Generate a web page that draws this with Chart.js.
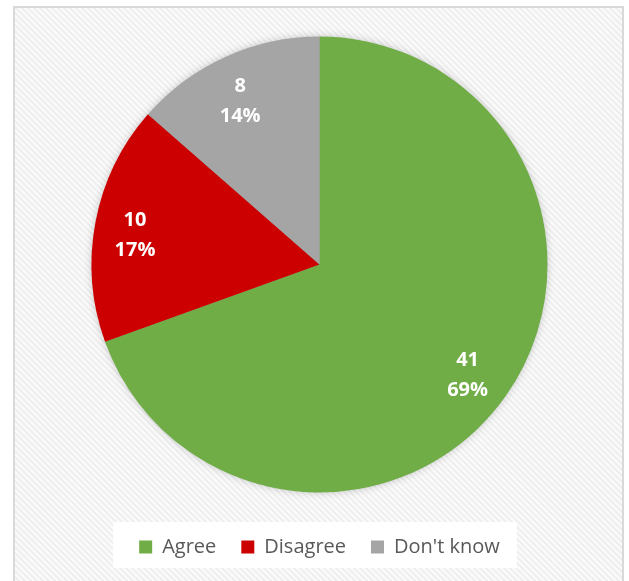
<!DOCTYPE html>
<html>
<head>
<meta charset="utf-8">
<script src="https://cdn.jsdelivr.net/npm/chart.js@4/dist/chart.umd.min.js"></script>
<style>
  html, body { margin: 0; padding: 0; background: #fff; }
  #wrap { width: 629px; height: 581px; position: relative; }
</style>
</head>
<body>
<div id="wrap"><canvas id="pieChart"></canvas></div>
<script>
const categories = ['Agree', 'Disagree', "Don't know"];
const counts = [41, 10, 8];
const percents = ['69%', '17%', '14%'];
const sliceColors = ['#70ad47', '#cc0000', '#a5a5a5'];

// hatched frame behind everything + white box behind legend
const backdrop = {
    id: 'backdrop',
    beforeDraw(chart) {
        const ctx = chart.ctx;
        const fx = 14, fy = 7, fw = 609, fh = 600;
        ctx.save();
        ctx.fillStyle = '#ffffff';
        ctx.fillRect(0, 0, chart.width, chart.height);
        ctx.beginPath();
        ctx.rect(fx, fy, fw, fh);
        ctx.clip();
        ctx.fillStyle = '#fbfbfb';
        ctx.fillRect(fx, fy, fw, fh);
        ctx.strokeStyle = '#eeeeee';
        ctx.lineWidth = 2;
        for (let k = -700; k < 700; k += 6) {
            ctx.beginPath();
            ctx.moveTo(k, 0);
            ctx.lineTo(k + 620, 620);
            ctx.stroke();
        }
        ctx.restore();

        ctx.save();
        ctx.strokeStyle = '#d9d9d9';
        ctx.lineWidth = 2;
        ctx.strokeRect(fx, fy, fw, fh);
        ctx.restore();

        const boxes = chart.legend && chart.legend.legendHitBoxes;
        if (boxes && boxes.length) {
            const left = Math.min(...boxes.map(b => b.left)) - 26;
            const right = Math.max(...boxes.map(b => b.left + b.width)) + 17;
            const top = boxes[0].top + boxes[0].height / 2 - 25;
            ctx.save();
            ctx.fillStyle = '#ffffff';
            ctx.fillRect(left, top, right - left, 46);
            ctx.restore();
        }
    },
    beforeDatasetsDraw(chart) {
        const arc = chart.getDatasetMeta(0).data[0];
        if (!arc) return;
        const ctx = chart.ctx;
        ctx.save();
        ctx.shadowColor = 'rgba(0,0,0,0.25)';
        ctx.shadowBlur = 8;
        ctx.fillStyle = '#999';
        ctx.beginPath();
        ctx.arc(arc.x, arc.y, arc.outerRadius - 1, 0, Math.PI * 2);
        ctx.fill();
        ctx.restore();
    }
};

// value + percent labels inside slices
const sliceLabels = {
    id: 'sliceLabels',
    afterDatasetsDraw(chart) {
        const ctx = chart.ctx;
        const meta = chart.getDatasetMeta(0);
        ctx.save();
        ctx.fillStyle = '#ffffff';
        ctx.font = 'bold 20px "Open Sans"';
        ctx.textAlign = 'center';
        ctx.textBaseline = 'middle';
        meta.data.forEach((arc, i) => {
            const p = arc.getProps(['x', 'y', 'startAngle', 'endAngle', 'outerRadius'], true);
            const mid = (p.startAngle + p.endAngle) / 2;
            const r = p.outerRadius * 0.81;
            const x = p.x + Math.cos(mid) * r - 3;
            const y = p.y + Math.sin(mid) * r + 5;
            ctx.fillText(String(counts[i]), x, y - 15);
            ctx.fillText(percents[i], x, y + 15);
        });
        ctx.restore();
    }
};

new Chart(document.getElementById('pieChart'), {
    type: 'pie',
    data: {
        labels: categories,
        datasets: [{
            data: counts,
            backgroundColor: sliceColors,
            borderWidth: 0,
            radius: 228
        }]
    },
    options: {
        responsive: true,
        maintainAspectRatio: false,
        animation: false,
        layout: {
            padding: { top: 17, left: 20, right: 10, bottom: 14 }
        },
        plugins: {
            tooltip: { enabled: false },
            legend: {
                position: 'bottom',
                labels: {
                    boxWidth: 13,
                    boxHeight: 13,
                    padding: 25,
                    color: '#595959',
                    font: { family: '"Open Sans"', size: 20 }
                }
            }
        }
    },
    plugins: [backdrop, sliceLabels]
});
</script>
</body>
</html>
